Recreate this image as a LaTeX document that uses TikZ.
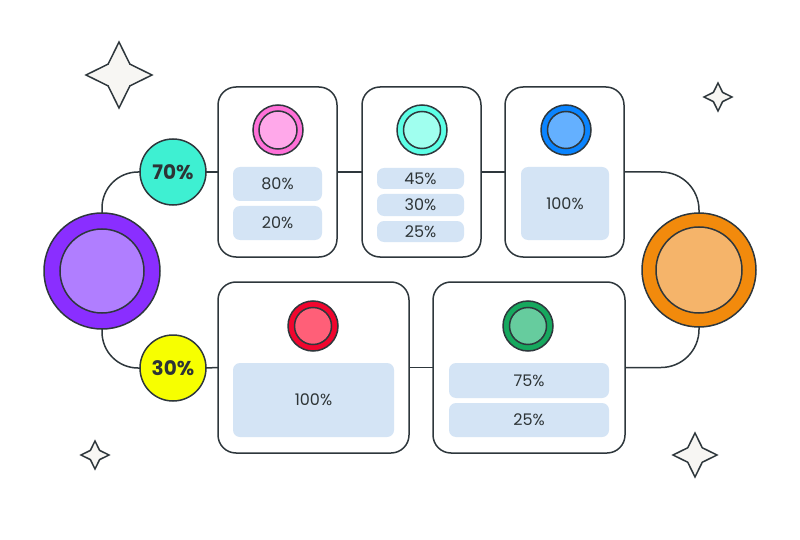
\documentclass[tikz,border=0pt]{standalone}
\usepackage{fontspec}
\setmainfont{Poppins}
\definecolor{ink}{HTML}{2E373C}
\definecolor{txt}{HTML}{2D3436}
\definecolor{pill}{HTML}{D4E4F5}
\definecolor{starfill}{HTML}{F7F6F3}
\definecolor{purpO}{HTML}{8A2EFF}
\definecolor{purpI}{HTML}{B07EFF}
\definecolor{tealS}{HTML}{3EF0D2}
\definecolor{yellS}{HTML}{F7FF00}
\definecolor{pinkO}{HTML}{FF70D8}
\definecolor{pinkI}{HTML}{FFA8EA}
\definecolor{aquaO}{HTML}{5CFFE6}
\definecolor{aquaI}{HTML}{A0FFEF}
\definecolor{blueO}{HTML}{0A84FF}
\definecolor{blueI}{HTML}{64B0FF}
\definecolor{oranO}{HTML}{F28A0C}
\definecolor{oranI}{HTML}{F5B46A}
\definecolor{redO}{HTML}{F0062E}
\definecolor{redI}{HTML}{FF5F78}
\definecolor{grnO}{HTML}{16A85E}
\definecolor{grnI}{HTML}{66CC9E}
\tikzset{
  ln/.style={draw=ink, line width=1.5pt},
  disc/.style={circle, ln, inner sep=0pt, outer sep=0pt, minimum size=#1},
  card/.style={rectangle, rounded corners=18pt, ln, fill=white, inner sep=0pt, outer sep=0pt},
  pillbox/.style={rectangle, rounded corners=7pt, fill=pill, inner sep=0pt, text=txt, font=\fontsize{16}{18}\selectfont},
  pct/.style={font=\fontsize{20}{22}\selectfont\bfseries, text=txt},
  conn/.style={ln},
  star4/.pic={
    \draw[ln, fill=starfill, line join=miter]
      (0,-#1) -- (0.33*#1,-0.33*#1) -- (#1,0) -- (0.33*#1,0.33*#1)
      -- (0,#1) -- (-0.33*#1,0.33*#1) -- (-#1,0) -- (-0.33*#1,-0.33*#1) -- cycle;
  }
}
\begin{document}
\begin{tikzpicture}[x=1pt,y=-1pt]
\useasboundingbox (0,0) rectangle (800,540);
% stars
\pic at (119,75) {star4=33};
\pic at (718,97) {star4=14};
\pic at (95,455) {star4=14};
\pic at (695,455) {star4=22};
% big circles
\node[disc=116pt, fill=purpO] (P) at (102,271) {};
\node[disc=84pt, fill=purpI] (Pi) at (102,271) {};
\node[disc=114pt, fill=oranO] (O) at (699,270) {};
\node[disc=86pt, fill=oranI] (Oi) at (699,270) {};
% percentage circles
\node[disc=66pt, fill=tealS, pct] (S70) at (173,172) {70\%};
\node[disc=66pt, fill=yellS, pct] (S30) at (173,368) {30\%};
% cards
\node[card, minimum width=119pt, minimum height=170pt] (C1) at (277.5,172) {};
\node[card, minimum width=119pt, minimum height=170pt] (C2) at (421.5,172) {};
\node[card, minimum width=119pt, minimum height=170pt] (C3) at (564.5,172) {};
\node[card, minimum width=191pt, minimum height=171pt] (C4) at (313.5,367.5) {};
\node[card, minimum width=192pt, minimum height=171pt] (C5) at (529,367.5) {};
% card icons
\node[disc=50pt, fill=pinkO] (I1) at (278,130) {};
\node[disc=38pt, fill=pinkI] (I1i) at (278,130) {};
\node[disc=50pt, fill=aquaO] (I2) at (422,130) {};
\node[disc=37pt, fill=aquaI] (I2i) at (422,130) {};
\node[disc=50pt, fill=blueO] (I3) at (566,130) {};
\node[disc=37pt, fill=blueI] (I3i) at (566,130) {};
\node[disc=50pt, fill=redO] (I4) at (313,326) {};
\node[disc=37pt, fill=redI] (I4i) at (313,326) {};
\node[disc=50pt, fill=grnO] (I5) at (528,326) {};
\node[disc=37pt, fill=grnI] (I5i) at (528,326) {};
% pills
\node[pillbox, minimum width=89pt, minimum height=34pt] (p11) at (277.5,184) {80\%};
\node[pillbox, minimum width=89pt, minimum height=34pt] (p12) at (277.5,223) {20\%};
\node[pillbox, minimum width=87pt, minimum height=21pt] (p21) at (420.5,178.5) {45\%};
\node[pillbox, minimum width=87pt, minimum height=22pt] (p22) at (420.5,205) {30\%};
\node[pillbox, minimum width=87pt, minimum height=21pt] (p23) at (420.5,231.5) {25\%};
\node[pillbox, minimum width=88pt, minimum height=73pt] (p31) at (565,203.5) {100\%};
\node[pillbox, minimum width=161pt, minimum height=74pt] (p41) at (313.5,400) {100\%};
\node[pillbox, minimum width=160pt, minimum height=35pt] (p51) at (529,380.5) {75\%};
\node[pillbox, minimum width=160pt, minimum height=34pt] (p52) at (529,420) {25\%};
% connectors
\draw[conn, rounded corners=36pt] (P.north) |- (S70.west);
\draw[conn, rounded corners=36pt] (P.south) |- (S30.west);
\draw[conn] (S70.east) -- (C1.west);
\draw[conn] (S30.east) -- (C4.west);
\draw[conn] (C1.east) -- (C2.west);
\draw[conn] (C2.east) -- (C3.west);
\draw[conn] (C4.east) -- (C5.west);
\draw[conn, rounded corners=38pt] (C3.east) -| (O.north);
\draw[conn, rounded corners=38pt] (C5.east) -| (O.south);
\end{tikzpicture}
\end{document}
